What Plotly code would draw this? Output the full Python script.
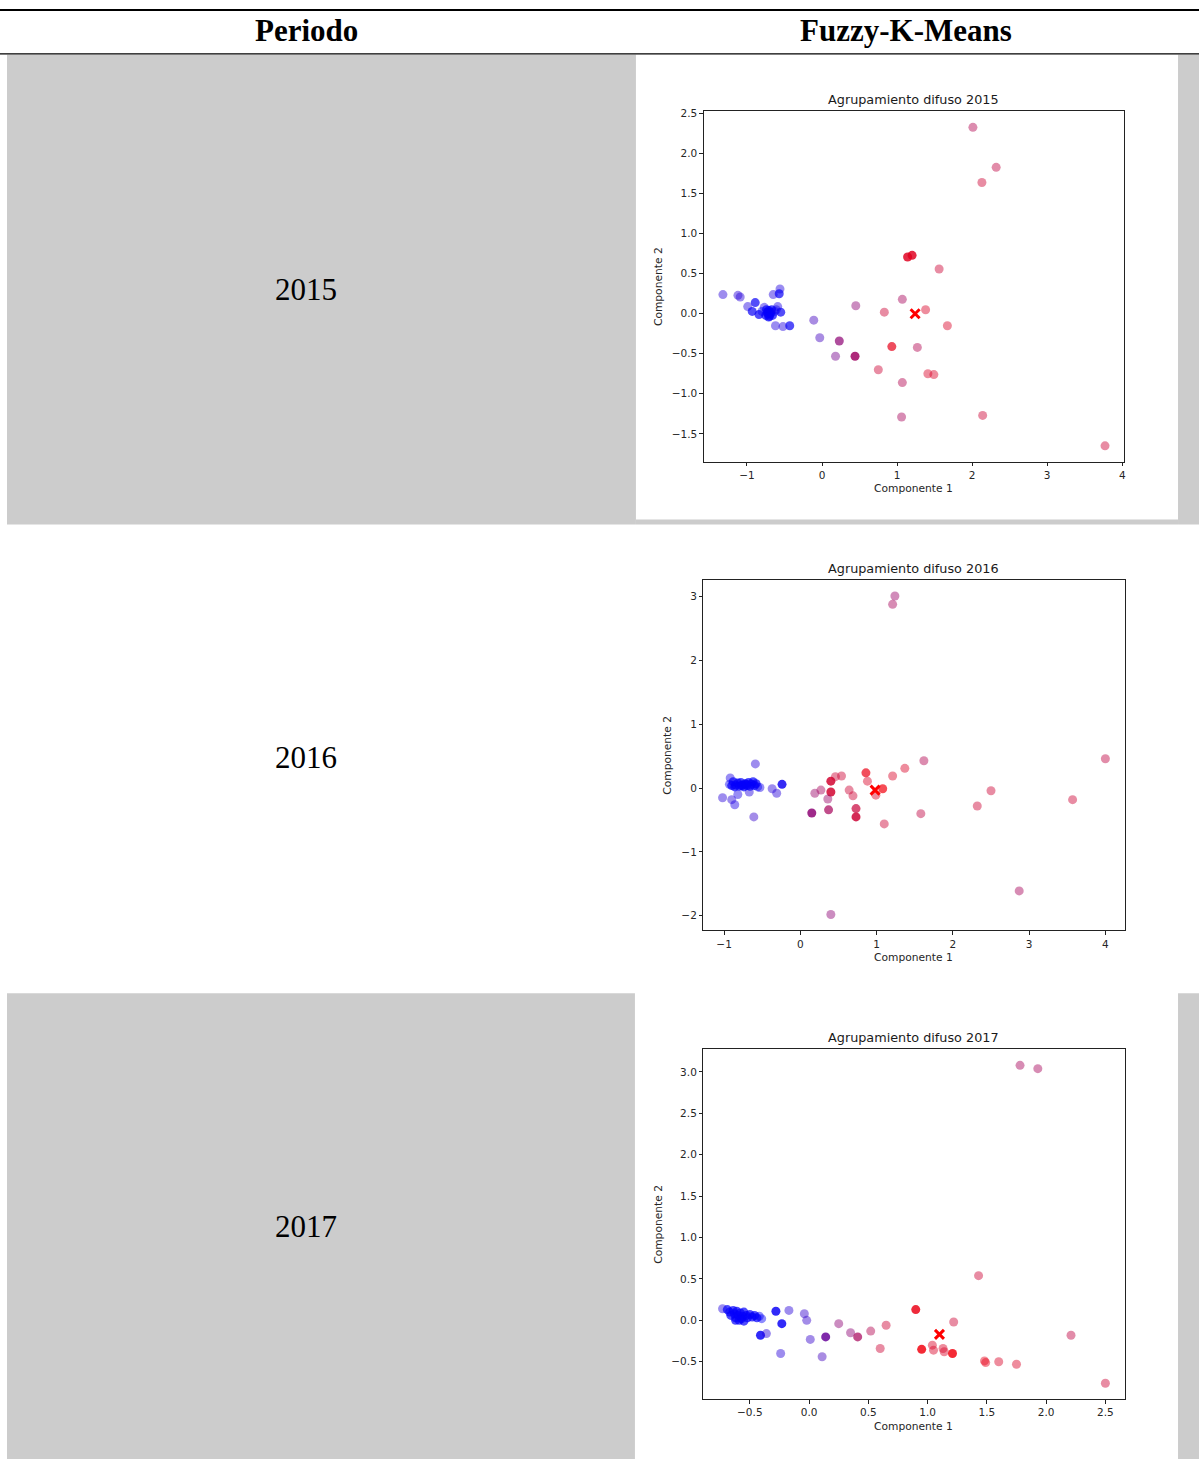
import plotly.graph_objects as go

W, H = 1201, 1459

# ---------------- data: principal components and fuzzy memberships ----------------
# u_*: membership degree in the second (red) cluster; n_*: coincident observations

x_2015 = [2.01, 2.32, 2.13, 1.14, 1.20, 1.56, 1.07, 0.45, 0.83, 1.38, 1.67, -0.11, -0.03,
          0.23, 0.18, 0.44, 0.93, 1.27, 0.75, 1.41, 1.49, 1.07, 1.06, 2.14, 3.77,
          -1.32, -1.12, -1.09, -0.99, -0.89, -0.93, -0.84, -0.77, -0.65, -0.56, -0.57,
          -0.59, -0.55, -0.62, -0.52, -0.43,
          -0.75, -0.73, -0.71, -0.70, -0.69, -0.72, -0.67, -0.66, -0.68, -0.74, -0.63,
          -0.80, -0.71, -0.61]
y_2015 = [2.33, 1.83, 1.64, 0.71, 0.73, 0.56, 0.18, 0.10, 0.02, 0.05, -0.15, -0.08, -0.30,
          -0.34, -0.53, -0.53, -0.41, -0.42, -0.70, -0.75, -0.76, -0.86, -1.29, -1.27, -1.65,
          0.24, 0.23, 0.21, 0.09, 0.14, 0.03, -0.01, 0.08, 0.24, 0.31, 0.25,
          0.09, 0.02, -0.15, -0.16, -0.15,
          -0.02, 0.02, 0.04, -0.03, 0.00, 0.00, 0.05, -0.02, 0.02, 0.05, 0.03,
          0.03, -0.04, 0.05]
u_2015 = [0.70, 0.75, 0.80, 0.88, 0.88, 0.80, 0.65, 0.55, 0.80, 0.85, 0.85, 0.25, 0.25,
          0.55, 0.45, 0.62, 0.90, 0.70, 0.80, 0.85, 0.85, 0.70, 0.65, 0.80, 0.80,
          0.15, 0.15, 0.15, 0.12, 0.03, 0.03, 0.03, 0.10, 0.12, 0.12, 0.03,
          0.10, 0.03, 0.12, 0.12, 0.03,
          0.02, 0.02, 0.02, 0.02, 0.02, 0.02, 0.02, 0.02, 0.02, 0.02, 0.02,
          0.02, 0.02, 0.05]
n_2015 = [1, 1, 1, 3, 3, 1, 1, 1, 1, 1, 1, 1, 1,
          2, 1, 3, 2, 1, 1, 1, 1, 1, 1, 1, 1,
          1, 1, 1, 1, 2, 2, 2, 1, 1, 1, 2,
          1, 2, 1, 1, 2,
          2, 2, 2, 2, 2, 2, 2, 2, 2, 2, 1,
          1, 2, 1]
centro_2015 = (1.24, 0.00)

x_2016 = [1.24, 1.21, 4.00, 1.62, 1.37, 1.21, 0.86, 0.88, 0.54, 0.46, 0.40, 0.40, 0.27,
          0.19, 0.36, 0.64, 0.69, 0.99, 1.08, 2.50, 2.32, 3.57, 1.58, 1.10, 0.15, 0.37,
          0.73, 0.73, 2.87, 0.40,
          -0.59, -0.61, -1.02, -0.90, -0.86, -0.82, -0.37, -0.31, -0.24, -0.53, -0.67,
          -0.92, -0.93,
          -0.90, -0.88, -0.85, -0.82, -0.80, -0.78, -0.76, -0.74, -0.72, -0.70, -0.68,
          -0.66, -0.64, -0.62, -0.60, -0.58, -0.56, -0.86, -0.77, -0.71]
y_2016 = [3.01, 2.88, 0.46, 0.43, 0.31, 0.19, 0.24, 0.11, 0.19, 0.18, 0.11, -0.06, -0.03,
          -0.08, -0.17, -0.03, -0.12, -0.11, -0.01, -0.04, -0.28, -0.18, -0.40, -0.56, -0.39,
          -0.34, -0.32, -0.45, -1.61, -1.98,
          0.38, -0.45, -0.15, -0.18, -0.26, -0.10, -0.01, -0.08, 0.06, 0.01, -0.06,
          0.16, 0.06,
          0.04, 0.10, 0.05, 0.08, 0.03, 0.09, 0.05, 0.02, 0.07, 0.04, 0.09,
          0.03, 0.06, 0.10, 0.04, 0.07, 0.02, 0.02, 0.04, 0.06]
u_2016 = [0.60, 0.65, 0.75, 0.70, 0.85, 0.85, 0.92, 0.85, 0.80, 0.80, 0.82, 0.82, 0.65,
          0.60, 0.60, 0.80, 0.80, 0.85, 0.95, 0.80, 0.80, 0.80, 0.75, 0.80, 0.55, 0.65,
          0.78, 0.80, 0.65, 0.55,
          0.15, 0.20, 0.15, 0.15, 0.10, 0.10, 0.15, 0.15, 0.05, 0.08, 0.12,
          0.10, 0.03,
          0.02, 0.02, 0.02, 0.02, 0.02, 0.02, 0.02, 0.02, 0.02, 0.02, 0.02,
          0.02, 0.02, 0.02, 0.02, 0.02, 0.02, 0.02, 0.02, 0.02]
n_2016 = [1, 1, 1, 1, 1, 1, 2, 1, 1, 1, 3, 3, 1,
          1, 1, 1, 1, 1, 2, 1, 1, 1, 1, 1, 3, 2,
          2, 3, 1, 1,
          1, 1, 1, 1, 1, 1, 1, 1, 3, 1, 1,
          1, 1,
          2, 2, 2, 2, 2, 2, 2, 2, 2, 2, 2,
          2, 2, 2, 2, 2, 1, 2, 2, 2]
centro_2016 = (0.98, -0.03)

x_2017 = [1.78, 1.93, 1.43, 0.90, 1.22, 2.21, 0.65, 0.52, 0.25, 0.35, 0.41, 0.14, 0.60,
          0.95, 1.04, 1.05, 1.13, 1.14, 1.21, 1.48, 1.49, 1.60, 1.75, 2.50,
          -0.04, -0.02, 0.01, 0.11, -0.24, -0.17, -0.28, -0.23, -0.41, -0.36, -0.73,
          -0.69, -0.67, -0.66, -0.64, -0.63, -0.62, -0.61, -0.60, -0.58, -0.57, -0.56,
          -0.55, -0.53, -0.52, -0.50, -0.48, -0.46, -0.44, -0.42, -0.40, -0.55, -0.59, -0.62]
y_2017 = [3.08, 3.04, 0.54, 0.13, -0.02, -0.18, -0.06, -0.13, -0.04, -0.15, -0.20, -0.20, -0.34,
          -0.35, -0.30, -0.36, -0.34, -0.38, -0.40, -0.49, -0.51, -0.50, -0.53, -0.76,
          0.08, 0.00, -0.23, -0.44, -0.40, 0.12, 0.11, -0.04, -0.18, -0.16, 0.14,
          0.13, 0.10, 0.06, 0.12, 0.08, 0.03, 0.11, 0.06, 0.09, 0.02, 0.05,
          0.10, 0.06, 0.03, 0.07, 0.04, 0.06, 0.03, 0.05, 0.02, -0.01, 0.00, 0.00]
u_2017 = [0.65, 0.65, 0.80, 0.92, 0.80, 0.75, 0.80, 0.70, 0.55, 0.55, 0.65, 0.40, 0.80,
          0.95, 0.85, 0.85, 0.85, 0.85, 0.95, 0.90, 0.90, 0.85, 0.85, 0.80,
          0.20, 0.20, 0.20, 0.25, 0.15, 0.15, 0.03, 0.03, 0.03, 0.15, 0.12,
          0.02, 0.02, 0.02, 0.02, 0.02, 0.02, 0.02, 0.02, 0.02, 0.02, 0.02,
          0.02, 0.02, 0.02, 0.02, 0.02, 0.02, 0.02, 0.02, 0.02, 0.02, 0.02, 0.02]
n_2017 = [1, 1, 1, 3, 1, 1, 1, 1, 1, 1, 2, 3, 1,
          3, 1, 1, 1, 1, 3, 1, 1, 1, 1, 1,
          1, 1, 1, 1, 1, 1, 3, 3, 3, 1, 1,
          2, 2, 2, 2, 2, 2, 2, 2, 2, 2, 2,
          2, 2, 2, 2, 2, 2, 2, 1, 1, 2, 2, 2]
centro_2017 = (1.10, -0.17)

periodos = ["2015", "2016", "2017"]
encabezados = ["Periodo", "Fuzzy-K-Means"]

# ---------------- helpers ----------------
ALPHA = 0.45


def px(x):
    return x / W


def py(y):
    return 1 - y / H


def colores(u, n):
    out = []
    for ui, ni in zip(u, n):
        a = 1 - (1 - ALPHA) ** ni
        out.append(f"rgba({round(255 * ui)},0,{round(255 * (1 - ui))},{a:.3f})")
    return out


def limites(vals):
    lo, hi = min(vals), max(vals)
    pad = 0.05 * (hi - lo)
    return [lo - pad, hi + pad]


# axes boxes in pixels: (left, right, top, bottom)
cajas = [(705, 1126, 107.7, 459), (704.6, 1126.4, 577.7, 929), (704.6, 1126.4, 1048.3, 1399)]
pasos = [(1, 0.5, ".0f", ".1f"), (1, 1, ".0f", ".0f"), (0.5, 0.5, ".1f", ".1f")]
ylabel_x = [659.6, 668.6, 659.6]
datos = [(x_2015, y_2015, u_2015, n_2015, centro_2015),
         (x_2016, y_2016, u_2016, n_2016, centro_2016),
         (x_2017, y_2017, u_2017, n_2017, centro_2017)]

fig = go.Figure()
layout = dict(
    width=W, height=H, margin=dict(l=0, r=0, t=0, b=0),
    paper_bgcolor="white", plot_bgcolor="white", showlegend=False,
    font=dict(family="DejaVu Sans", color="#262626"),
)
annotations = []
shapes = []

GRIS = "#cccccc"
# table cell backgrounds
for (x0, x1, y0, y1) in [(7, 637, 51, 522), (1180, 1201, 51, 522), (637, 1180, 517, 522),
                         (7, 636, 992, 1459), (1180, 1201, 992, 1459)]:
    shapes.append(dict(type="rect", xref="paper", yref="paper", x0=px(x0), x1=px(x1),
                       y0=py(y1), y1=py(y0), fillcolor=GRIS, line=dict(width=0), layer="below"))
# table rules
shapes.append(dict(type="line", xref="paper", yref="paper", x0=0, x1=1, y0=py(6), y1=py(6),
                   line=dict(color="black", width=2)))
shapes.append(dict(type="line", xref="paper", yref="paper", x0=0, x1=1, y0=py(50), y1=py(50),
                   line=dict(color="black", width=1.2)))

serif = "Liberation Serif"
annotations.append(dict(text=encabezados[0], x=px(307), y=py(27), xref="paper", yref="paper",
                        showarrow=False, xanchor="center", yanchor="middle",
                        font=dict(family=serif, size=31, color="black", weight="bold")))
annotations.append(dict(text=encabezados[1], x=px(908), y=py(27), xref="paper", yref="paper",
                        showarrow=False, xanchor="center", yanchor="middle",
                        font=dict(family=serif, size=31, color="black", weight="bold")))

for i, (xs, ys, us, ns, centro) in enumerate(datos):
    k = "" if i == 0 else str(i + 1)
    left, right, top, bottom = cajas[i]
    dx, dy, fx, fy = pasos[i]

    fig.add_trace(go.Scatter(
        x=xs, y=ys, mode="markers", xaxis="x" + k, yaxis="y" + k,
        marker=dict(size=9, color=colores(us, ns), line=dict(width=0)),
        hoverinfo="skip"))
    fig.add_trace(go.Scatter(
        x=[centro[0]], y=[centro[1]], mode="markers", xaxis="x" + k, yaxis="y" + k,
        marker=dict(symbol="x-thin", size=9, line=dict(color="red", width=3)),
        hoverinfo="skip"))

    ejes = dict(showline=True, mirror=True, linecolor="#222", linewidth=1, showgrid=False,
                zeroline=False, ticks="outside", ticklen=3.5, tickwidth=0.8, tickcolor="#222",
                tickfont=dict(family="DejaVu Sans", size=10.5, color="#262626"),
                tickmode="linear", tick0=0)
    layout["xaxis" + k] = dict(ejes, domain=[px(left), px(right)], dtick=dx, tickformat=fx,
                               range=limites(xs + [centro[0]]), anchor="y" + k)
    layout["yaxis" + k] = dict(ejes, domain=[py(bottom), py(top)], dtick=dy, tickformat=fy,
                               range=limites(ys + [centro[1]]), anchor="x" + k)

    cx = (left + right) / 2
    annotations.append(dict(text=f"Agrupamiento difuso {periodos[i]}", x=px(cx), y=py(top - 12),
                            xref="paper", yref="paper", showarrow=False, xanchor="center",
                            yanchor="middle", font=dict(size=12.8, color="#1a1a1a")))
    annotations.append(dict(text="Componente 1", x=px(cx), y=py(bottom + 27), xref="paper",
                            yref="paper", showarrow=False, xanchor="center", yanchor="middle",
                            font=dict(size=10.7, color="#262626")))
    annotations.append(dict(text="Componente 2", x=px(ylabel_x[i]), y=py((top + bottom) / 2),
                            xref="paper", yref="paper", showarrow=False, textangle=-90,
                            xanchor="center", yanchor="middle",
                            font=dict(size=10.7, color="#262626")))
    # period label in the left column
    fila_c = 286 + 470 * i
    annotations.append(dict(text=periodos[i], x=px(307), y=py(fila_c), xref="paper", yref="paper",
                            showarrow=False, xanchor="center", yanchor="middle",
                            font=dict(family=serif, size=31, color="black")))

layout["annotations"] = annotations
layout["shapes"] = shapes
fig.update_layout(**layout)
fig.write_html("out.html")
